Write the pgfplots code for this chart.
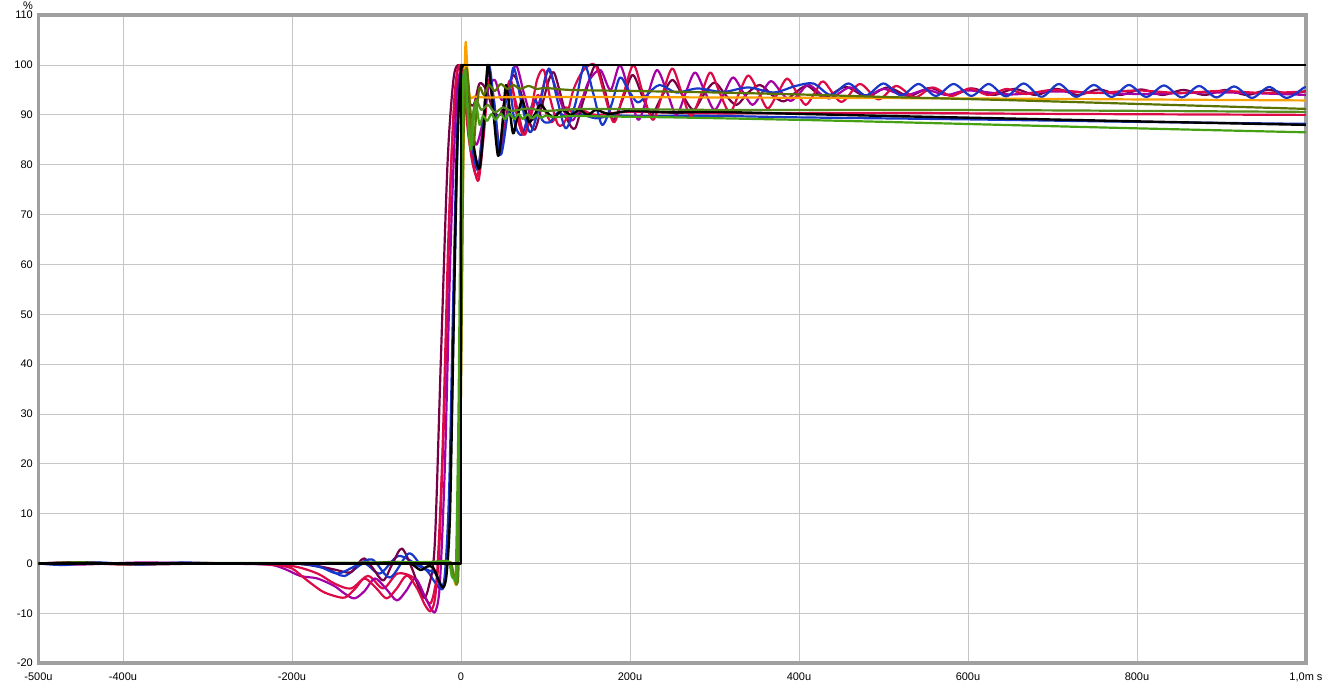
\documentclass[border=0pt]{standalone}
\usepackage{fontspec}
\setmainfont{Liberation Sans}
\usepackage{pgfplots}
\pgfplotsset{compat=1.18}
\definecolor{cblue}{RGB}{25,55,200}
\definecolor{cmaroon}{RGB}{120,0,70}
\definecolor{cmag}{RGB}{165,0,165}
\definecolor{ccrim}{RGB}{220,10,70}
\definecolor{corange}{RGB}{250,160,0}
\definecolor{colive}{RGB}{90,115,0}
\definecolor{cgreen}{RGB}{70,160,20}
\definecolor{cgreenb}{RGB}{85,140,30}
\definecolor{cgrid}{RGB}{198,198,198}
\definecolor{cframe}{RGB}{160,160,160}
\begin{document}
\begin{tikzpicture}
\useasboundingbox (-38.5pt,-21.8pt) rectangle (1285.5pt,663.2pt);
\begin{axis}[
  scale only axis, width=1267.5pt, height=648pt,
  xmin=-500, xmax=1000, ymin=-20, ymax=110,
  xtick={-500,-400,-200,0,200,400,600,800,1000},
  xticklabels={-500u,-400u,-200u,0,200u,400u,600u,800u,{1,0m s}},
  ytick={-20,-10,0,10,20,30,40,50,60,70,80,90,100,110},
  yticklabels={-20,-10,0,10,20,30,40,50,60,70,80,90,100,110},
  major tick length=0pt,
  grid=major, major grid style={cgrid, line width=0.9pt},
  axis line style={cframe, line width=3.8pt},
  tick label style={font=\fontsize{11}{13}\selectfont, inner sep=0pt},
  xticklabel style={anchor=north, yshift=-9pt},
  yticklabel style={anchor=east, xshift=-5.5pt},
  every axis plot/.append style={line width=2.2pt, line join=round},
]
% crimson lower
\addplot[ccrim, smooth, tension=0.5] coordinates {(-500,0)(-250,0)(-200,-0.5)(-170,-2)(-150,-4)(-130,-5)(-110,-2.5)(-92,-5)(-75,-2)(-55,-3)(-42,-7)(-36,-8)(-31,-5)(-26,2)(-19,35)(-12,78)(-5,98)(1,99)(6,94)(11,85)(16,79)(21,77)(27,86)(33,97)(39,93)(46,83)(53,89)(60,95)(67,91)(75,86)(83,90)(91,94)(99,91)(107,88.5)(115,90.5)(125,91.5)(135,90)(145,90.8)(160,90)(200,90.6)(300,90.3)(500,90.4)(700,90.2)(1000,90)};
% blue lower
\addplot[cblue, smooth, tension=0.5] coordinates {(-500,0)(-300,0)(-200,0)(-160,-1)(-138,-2.5)(-115,0)(-96,-2)(-74,1.5)(-50,-0.5)(-40,-1.5)(-30,-4)(-24,-5)(-19,-2)(-14,15)(-9,55)(-4,90)(1,99)(7,95)(13,84)(20,79)(26,88)(32,99)(38,92)(45,82)(51,90)(57,96)(64,88)(72,86)(80,90)(88,93)(96,89)(105,88.5)(115,90.5)(125,89.5)(140,90.2)(160,89.3)(180,90)(200,89.8)(300,89.8)(400,89.5)(600,89.1)(800,88.6)(1000,88.2)};
% maroon
\addplot[cmaroon, smooth, tension=0.5] coordinates {(-500,0)(-440,0.2)(-380,-0.2)(-300,0)(-200,0)(-170,-0.5)(-150,-1.2)(-131,-1.8)(-122,0)(-114,1)(-104,-1)(-92,-3.4)(-81,0)(-70,3)(-58,-1)(-45,-6.8)(-38,-4.5)(-31,4)(-24,40)(-16,80)(-9,97)(-3,100)(2,97)(8,93)(15,92)(22,96.3)(30,95)(38,91)(46,90)(54,94)(62,98)(70,95)(78,90)(87,87)(96,92)(104,97)(110,98.5)(118,94)(126,89)(135,87.3)(145,93)(159,100)(170,95)(180,89)(191,93)(203,98)(214,94)(225,90)(237,93.5)(250,97)(262,94)(275,91)(287,94)(300,96.5)(313,94)(326,92)(340,94.5)(354,96)(368,94)(382,92.7)(396,94.5)(410,95.8)(430,93.5)(455,95.6)(480,93.7)(505,95.5)(530,93.8)(555,95.4)(580,93.9)(605,95.3)(630,94)(655,95.2)(680,94)(705,95.2)(730,94)(755,95.1)(780,94)(805,95.1)(830,94)(855,95)(880,94)(905,95)(930,94)(955,95)(980,94.2)(1000,94.8)};
% magenta
\addplot[cmag, smooth, tension=0.5] coordinates {(-500,0)(-450,-0.2)(-380,0.2)(-300,0)(-230,-0.2)(-210,-1)(-190,-2.5)(-170,-3)(-150,-4.5)(-138,-6)(-126,-7)(-114,-5.5)(-102,-3)(-89,-5)(-76,-7.4)(-65,-5.5)(-54,-3)(-43,-6.5)(-35,-9.2)(-30,-9.5)(-25,-4)(-19,20)(-12,65)(-5,94)(1,99)(6,96)(12,88)(18,84)(25,88)(32,95)(40,97)(48,93)(56,95)(65,100)(75,94)(85,89)(95,94)(103,99)(113,95)(124,90)(133,89)(143,93)(152,97)(165,99)(177,95)(188,100)(199,94.5)(210,89)(221,94)(232,99)(244,94.5)(255,90)(266,94.5)(277,98.5)(289,94.5)(300,91)(311,94.2)(322,97.5)(334,94.5)(345,92)(356,94.4)(367,96.8)(379,94.5)(390,92.8)(401,94.4)(412,96)(435,93.3)(460,95.5)(480,93.8)(500,95.2)(525,93.9)(550,95)(575,94)(600,94.9)(650,94.1)(700,94.7)(800,94.2)(900,94.5)(1000,94)};
% crimson main
\addplot[ccrim, smooth, tension=0.5] coordinates {(-500,0)(-460,0.2)(-400,-0.2)(-330,0.1)(-260,0)(-220,-0.3)(-200,-1)(-185,-3)(-165,-5.5)(-150,-6.5)(-137,-6.8)(-125,-5)(-114,-3)(-100,-5)(-88,-7)(-76,-5)(-64,-2.4)(-52,-5)(-42,-8.5)(-35,-9.4)(-29,-4)(-22,22)(-15,65)(-8,93)(-2,100)(3,97)(8,87)(14,80)(20,78)(26,88)(32,99)(38,92)(45,82)(52,93)(59,97)(66,90)(74,86)(82,90)(90,97)(98,99)(106,93)(115,88)(124,89)(133,95)(145,99)(159,100)(170,94)(181,88.5)(192,94)(204,100)(215,94.5)(227,89)(238,94)(250,99.3)(261,94.5)(272,89.8)(284,94)(295,98.5)(306,94.5)(318,90.5)(329,94.3)(340,97.9)(352,94.6)(363,91.3)(375,94.4)(386,97.3)(397,94.6)(408,92)(419,94.5)(429,96.7)(450,92.6)(472,96.2)(494,93.1)(515,95.8)(537,93.5)(558,95.5)(580,93.8)(602,95.3)(624,94)(646,95.2)(668,94.2)(700,95)(750,94.4)(800,94.9)(850,94.4)(900,94.8)(950,94.4)(1000,94.7)};
% blue main
\addplot[cblue, smooth, tension=0.5] coordinates {(-500,0)(-470,-0.3)(-430,0.2)(-380,-0.2)(-330,0.2)(-280,0)(-200,0)(-170,-0.5)(-146,-2)(-125,-0.5)(-105,0.8)(-84,-2.8)(-62,2)(-47,-0.5)(-38,-1.4)(-30,-2)(-23,-5.2)(-18,-2)(-13,15)(-8,55)(-3,90)(2,98)(8,94)(14,84)(21,80)(27,89)(33,100)(40,91)(47,82)(55,90)(62,99.5)(72,92)(82,86.5)(93,92)(104,99.3)(114,93)(124,87.3)(135,92)(146,100)(157,94)(167,88)(178,92)(188,97.5)(198,95)(209,92.5)(220,94)(235,96)(255,94.5)(280,95.3)(310,94.6)(340,95.5)(370,94.5)(396,95.8)(417,96.3)(437.5,94)(458.5,96.3)(479,93.9)(500,96.3)(521,93.9)(541.5,96.2)(562,93.8)(583,96.2)(604,93.8)(624.5,96.2)(645,93.7)(666,96.3)(687,93.6)(707.5,96.2)(728,93.6)(749,96)(770,93.6)(790.5,96)(811,93.6)(832,95.9)(853,93.5)(873.5,95.8)(894,93.5)(915,95.7)(936,93.4)(956.5,95.6)(977,93.4)(998,95.5)(1000,95.4)};
% black main
\addplot[black, smooth, tension=0.5, line width=2.4pt] coordinates {(-500,0)(-450,0.2)(-400,-0.1)(-350,0.1)(-300,0)(-200,0)(-120,0)(-80,0.3)(-60,0)(-48,-1.3)(-40,-0.6)(-33,-0.8)(-26,-3.5)(-21,-4.8)(-17,-2)(-13,10)(-9,45)(-5,80)(-1,97)(3,100)(8,96)(14,85)(21.7,79.2)(27,88)(31.6,100)(37,93)(43.8,81.8)(49,88)(53,95.9)(57,92)(61.6,86.3)(66,89)(71.9,92.9)(76,91)(80.6,88.5)(87,90)(94,92)(102,90.5)(110,89.5)(120,91)(130,90)(140,91)(150,90)(160,91)(175,90.2)(200,90.8)(250,90.5)(300,90.6)(400,90.2)(500,89.8)(639,89.3)(800,88.7)(1000,88)};
% orange
\addplot[corange, smooth, tension=0.5] coordinates {(-500,0)(-300,0)(-100,0)(-30,0.2)(-14,0)(-10,-1)(-7,-4)(-4,-2)(-1,20)(2,70)(5,103)(7,101)(9,95)(12,93.3)(16,93.7)(30,93.5)(100,93.6)(300,93.5)(600,93.3)(800,93.1)(1000,92.9)};
% olive
\addplot[colive, smooth, tension=0.5] coordinates {(-500,0)(-300,0)(-100,0)(-20,0.3)(-12,0)(-9,-2)(-6,-3)(-3,-1)(0,35)(3,85)(6,99)(9,96)(12,88)(15,84)(18,90)(22,95.5)(27,94)(33,96)(40,94.8)(47,96.2)(55,95.2)(62,96)(70,95.2)(80,95.8)(90,95.2)(100,95.4)(130,95)(200,94.8)(300,94.5)(400,94.1)(500,93.6)(639,93)(800,92.2)(1000,91.2)};
% green upper
\addplot[cgreenb, smooth, tension=0.5] coordinates {(-500,0)(-200,0)(-30,0.2)(-14,0)(-10,-2)(-7,-3)(-4,-1)(-1,40)(2,88)(5,99)(8,92)(11,85)(14,90)(18,93)(24,91)(32,92)(40,90.5)(50,91.5)(60,90.8)(80,91.3)(100,90.8)(150,91.2)(300,91)(500,91)(700,90.9)(1000,90.6)};
% green lower
\addplot[cgreen, smooth, tension=0.5] coordinates {(-500,0)(-450,0.2)(-400,-0.1)(-300,0.1)(-200,0.1)(-100,0.2)(-40,0.3)(-20,0.5)(-14,0.3)(-11,-2.5)(-8,-3)(-6,-1)(-3,30)(0,80)(3,98)(6,96)(9,87)(12,83)(15,89)(18,92)(22,88)(26,89.8)(31,88.8)(36,90.2)(41,89)(47,90.3)(52,89.1)(57,90.3)(63,89.2)(68,90.2)(73,89.2)(79,90.1)(84,89.3)(90,90)(95,89.4)(101,89.9)(110,89.5)(130,89.8)(165,89.7)(250,89.5)(400,89)(500,88.6)(639,88)(800,87.3)(1000,86.5)};
% ideal step
\addplot[black, line width=2.2pt] coordinates {(-500,0)(0,0)(0,100)(1000,100)};
\end{axis}
\node[anchor=south east, inner sep=0pt, font=\fontsize{11}{13}\selectfont] at (-5.5pt,653pt) {\%};
\end{tikzpicture}
\end{document}
